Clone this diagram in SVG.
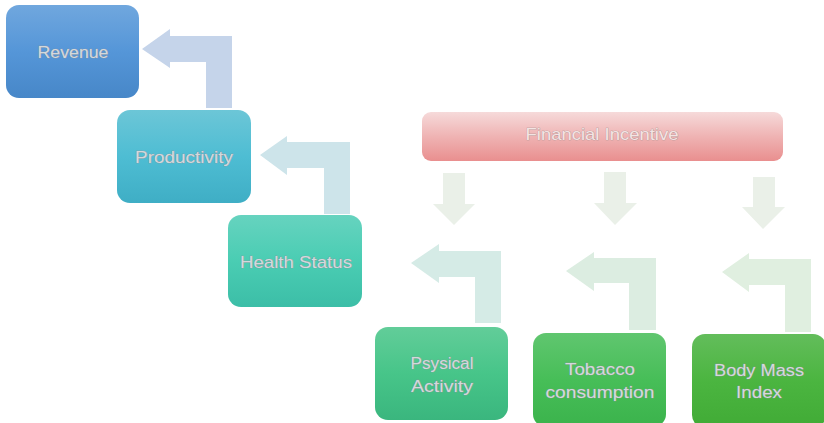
<svg xmlns="http://www.w3.org/2000/svg" width="824" height="423" viewBox="0 0 824 423">
<defs>
<linearGradient id="gRev" x1="0" y1="0" x2="0" y2="1"><stop offset="0" stop-color="#70a7de"/><stop offset="0.5" stop-color="#5596d8"/><stop offset="1" stop-color="#4787c8"/></linearGradient>
<linearGradient id="gProd" x1="0" y1="0" x2="0" y2="1"><stop offset="0" stop-color="#6cc6d7"/><stop offset="0.5" stop-color="#4ebdd3"/><stop offset="1" stop-color="#3faec5"/></linearGradient>
<linearGradient id="gHealth" x1="0" y1="0" x2="0" y2="1"><stop offset="0" stop-color="#66d3bf"/><stop offset="0.5" stop-color="#4acdb3"/><stop offset="1" stop-color="#3cbea7"/></linearGradient>
<linearGradient id="gPhys" x1="0" y1="0" x2="0" y2="1"><stop offset="0" stop-color="#62cd99"/><stop offset="0.5" stop-color="#47c589"/><stop offset="1" stop-color="#3ab67e"/></linearGradient>
<linearGradient id="gTob" x1="0" y1="0" x2="0" y2="1"><stop offset="0" stop-color="#60c66f"/><stop offset="0.5" stop-color="#47be58"/><stop offset="1" stop-color="#3bb34c"/></linearGradient>
<linearGradient id="gBmi" x1="0" y1="0" x2="0" y2="1"><stop offset="0" stop-color="#63bd5b"/><stop offset="0.5" stop-color="#4bb540"/><stop offset="1" stop-color="#41ab36"/></linearGradient>
<linearGradient id="gFin" x1="0" y1="0" x2="0" y2="1"><stop offset="0" stop-color="#f6dada"/><stop offset="0.5" stop-color="#efb3b3"/><stop offset="1" stop-color="#e98f8f"/></linearGradient>
</defs>
<style>
.lbl{font-family:"Liberation Sans",Arial,sans-serif;font-size:17px;fill:#d4d8dc;stroke:#8e949a;stroke-width:0.6px;paint-order:stroke;text-anchor:middle}
.fin{fill:#f3e4e4;stroke:#a89090}
</style>
<g id="connectors">
<path id="c1" d="M206,108 L206,62 L170,62 L170,68 L142,49 L170,29 L170,36 L232,36 L232,108 Z" fill="#c5d4ea"/>
<path id="c2" d="M324,214 L324,168 L287,168 L287,175 L260,155 L287,136 L287,142 L350,142 L350,214 Z" fill="#cde4ea"/>
<path id="c3" d="M475,323 L475,277 L439,277 L439,283 L411,263 L439,244 L439,251 L501,251 L501,323 Z" fill="#d5ebe6"/>
<path id="c4" d="M629,330 L629,283 L594,283 L594,291 L566,271 L594,252 L594,258 L656,258 L656,330 Z" fill="#dcede1"/>
<path id="c5" d="M785,332 L785,285 L749,285 L749,292 L722,272 L749,253 L749,259 L811,259 L811,332 Z" fill="#e0efe0"/>
<path id="d1" d="M443,173 L465,173 L465,204 L475,204 L454,225 L433,204 L443,204 Z" fill="#eaf0e8"/>
<path id="d2" d="M604,172 L626,172 L626,203 L637,203 L615,225 L594,203 L604,203 Z" fill="#eaf0e8"/>
<path id="d3" d="M753,177 L775,177 L775,207 L785,207 L763,229 L742,207 L753,207 Z" fill="#eaf0e8"/>
</g>
<g id="revenue">
<rect x="6" y="5" width="133" height="93" rx="13" fill="url(#gRev)"/>
<text class="lbl" x="73" y="58" textLength="71" lengthAdjust="spacingAndGlyphs">Revenue</text>
</g>
<g id="productivity">
<rect x="117" y="110" width="134" height="93" rx="13" fill="url(#gProd)"/>
<text class="lbl" x="184" y="163" textLength="98" lengthAdjust="spacingAndGlyphs">Productivity</text>
</g>
<g id="health">
<rect x="228" y="215" width="134" height="92" rx="13" fill="url(#gHealth)"/>
<text class="lbl" x="296" y="268" textLength="112" lengthAdjust="spacingAndGlyphs">Health Status</text>
</g>
<g id="financial">
<rect x="422" y="112" width="361" height="49" rx="9" fill="url(#gFin)"/>
<text class="lbl fin" x="602" y="140" textLength="153" lengthAdjust="spacingAndGlyphs">Financial Incentive</text>
</g>
<g id="physical">
<rect x="375" y="327" width="133" height="93" rx="13" fill="url(#gPhys)"/>
<text class="lbl" x="442" y="369" textLength="63" lengthAdjust="spacingAndGlyphs">Psysical</text>
<text class="lbl" x="442" y="392" textLength="62" lengthAdjust="spacingAndGlyphs">Activity</text>
</g>
<g id="tobacco">
<rect x="533" y="333" width="133" height="94" rx="13" fill="url(#gTob)"/>
<text class="lbl" x="600" y="375" textLength="70" lengthAdjust="spacingAndGlyphs">Tobacco</text>
<text class="lbl" x="600" y="398" textLength="109" lengthAdjust="spacingAndGlyphs">consumption</text>
</g>
<g id="bmi">
<rect x="692" y="334" width="134" height="94" rx="13" fill="url(#gBmi)"/>
<text class="lbl" x="759" y="376" textLength="90" lengthAdjust="spacingAndGlyphs">Body Mass</text>
<text class="lbl" x="759" y="398" textLength="46" lengthAdjust="spacingAndGlyphs">Index</text>
</g>
</svg>
